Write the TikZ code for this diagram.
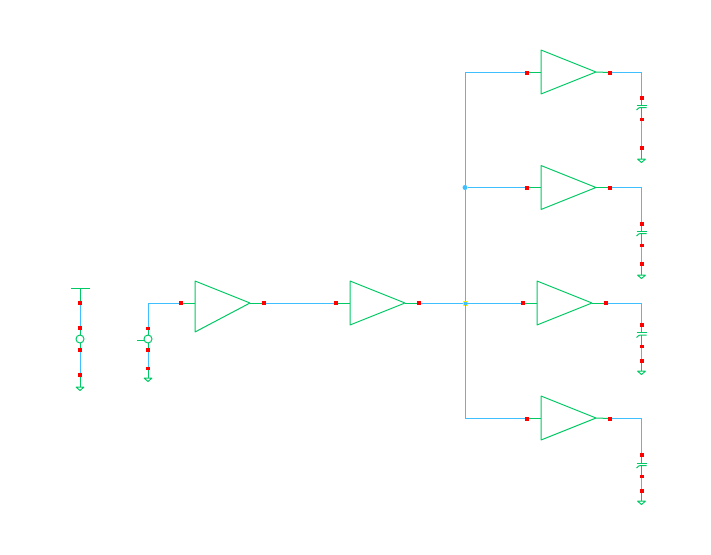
\documentclass[tikz,border=0pt]{standalone}
\usepackage{tikz}
\usetikzlibrary{shapes.geometric,positioning,calc}

\definecolor{wireblue}{HTML}{40BFFF}
\definecolor{devgreen}{HTML}{00C864}

\tikzset{
    redpin/.style={fill=red, inner sep=0pt, outer sep=0pt, minimum width=4pt, minimum height=4pt},
    thinpin/.style={redpin, minimum height=3pt},
    buffer/.style={draw=devgreen, isosceles triangle, isosceles triangle stretches, line join=bevel,
        inner sep=0pt, outer sep=0pt, minimum width=44pt, minimum height=55pt, anchor=west},
    gnd/.style={draw=devgreen, isosceles triangle, isosceles triangle stretches, shape border rotate=-90,
        line join=bevel, inner sep=0pt, outer sep=0pt, minimum width=8pt, minimum height=3.5pt, anchor=north},
    source/.style={draw=devgreen, circle, inner sep=0pt, outer sep=0pt, minimum size=8pt},
    rail/.style={fill=devgreen, inner sep=0pt, outer sep=0pt, minimum width=19pt, minimum height=1pt},
    junction/.style={circle, fill=wireblue, inner sep=0pt, outer sep=0pt, minimum size=5pt},
    tapjunction/.style={fill=wireblue, draw=yellow, line width=.8pt, inner sep=0pt, outer sep=0pt, minimum size=4pt},
    capnode/.style={inner sep=0pt, outer sep=0pt, minimum size=0pt},
    wire/.style={draw=wireblue},
    stub/.style={draw=devgreen},
    capsym/.pic={
        \draw[devgreen] (-5,0) -- (5,0);
        \draw[devgreen] (-5,5) .. controls (-3,2.5) and (-2,2.5) .. (0,2.5) -- (5,2.5);
    }
}

\begin{document}
\begin{tikzpicture}[x=1pt, y=-1pt, line width=1pt]

        \useasboundingbox (0,0) rectangle (711,554);

        % Supply on the far left
        \begin{scope}
            \node[rail] (V1) at (80,288) {};
            \node[redpin] (Pa1) at (80,303) {};
            \node[redpin] (Pa2) at (80,328) {};
            \node[source] (S1) at (80,339) {};
            \node[redpin] (Pa3) at (80,350) {};
            \node[redpin] (Pa4) at (80,375) {};
            \node[gnd] (G1) at (80,387) {};
        \end{scope}

        % Input source
        \begin{scope}
            \node[thinpin] (Pb1) at (148,328) {};
            \node[source] (S2) at (148,339) {};
            \coordinate (S2in) at (137,340);
            \node[redpin] (Pb2) at (148,350) {};
            \node[thinpin] (Pb3) at (148,368) {};
            \node[gnd] (G2) at (148,378) {};
        \end{scope}

        % Buffer chain, the first one is not symmetric
        \begin{scope}
            \node[redpin] (B1i) at (181,303) {};
            \coordinate (B1w) at (195,303);
            \coordinate (B1t) at (195,281);
            \coordinate (B1b) at (195,332);
            \coordinate (B1e) at (250,303);
            \draw[devgreen, line join=bevel] (B1t) -- (B1e) -- (B1b) -- cycle;
            \node[redpin] (B1o) at (264,303) {};
            \node[redpin] (B2i) at (336,303) {};
            \node[buffer] (B2) at (350,303) {};
            \node[redpin] (B2o) at (419,303) {};
        \end{scope}

        % Fan out
        \begin{scope}
            \node[junction] (J1) at (465,187.5) {};
            \node[tapjunction] (J2) at (465,303) {};

            \node[redpin] (L1i) at (527,72.5) {};
            \node[buffer] (L1) at (541,72) {};
            \node[redpin] (L1o) at (610,72.5) {};
            \node[redpin] (L2i) at (527,187.5) {};
            \node[buffer] (L2) at (541,187.5) {};
            \node[redpin] (L2o) at (610,187.5) {};
            \node[redpin] (L3i) at (522.5,303) {};
            \node[buffer] (L3) at (537,303) {};
            \node[redpin] (L3o) at (605.5,303) {};
            \node[redpin] (L4i) at (527,418.5) {};
            \node[buffer] (L4) at (541,418) {};
            \node[redpin] (L4o) at (610,418.5) {};
        \end{scope}

        % Loads
        \begin{scope}
            \node[redpin] (C1a) at (641.5,98) {};
            \node[capnode] (C1t) at (641.5,105) {};
            \node[capnode] (C1l) at (641.5,107.5) {};
            \pic at (C1t) {capsym};
            \node[thinpin] (C1b) at (641.5,119) {};
            \node[redpin] (C1c) at (641.5,148) {};
            \node[gnd] (G3) at (641.5,159) {};

            \node[redpin] (C2a) at (641.5,224) {};
            \node[capnode] (C2t) at (641.5,231) {};
            \node[capnode] (C2l) at (641.5,233.5) {};
            \pic at (C2t) {capsym};
            \node[thinpin] (C2b) at (641.5,245) {};
            \node[redpin] (C2c) at (641.5,264) {};
            \node[gnd] (G4) at (641.5,275) {};

            \node[redpin] (C3a) at (641.5,325) {};
            \node[capnode] (C3t) at (641.5,332.5) {};
            \node[capnode] (C3l) at (641.5,335) {};
            \pic at (C3t) {capsym};
            \node[thinpin] (C3b) at (641.5,346) {};
            \node[redpin] (C3c) at (641.5,361) {};
            \node[gnd] (G5) at (641.5,371) {};

            \node[redpin] (C4a) at (641.5,455) {};
            \node[capnode] (C4t) at (641.5,463) {};
            \node[capnode] (C4l) at (641.5,465.5) {};
            \pic at (C4t) {capsym};
            \node[thinpin] (C4b) at (641.5,476) {};
            \node[redpin] (C4c) at (641.5,491) {};
            \node[gnd] (G6) at (641.5,501) {};
        \end{scope}

        \begin{scope}[wire]
            \draw (Pa1) -- (Pa2);
            \draw (Pa3) -- (Pa4);
            \draw (B1i) -| (Pb1);
            \draw (Pb2) -- (Pb3);
            \draw (B1o) -- (B2i);
            \draw (B2o) -- (J2);
            \draw (J2) -- (L3i);
            \draw (L1i) -| (J1);
            \draw (J1) -- (J2);
            \draw (J1) -- (L2i);
            \draw (L4i) -| (J2);
            \draw (L1o) -| (C1a);
            \draw (L2o) -| (C2a);
            \draw (L3o) -| (C3a);
            \draw (L4o) -| (C4a);
            \draw (C1b) -- (C1c);
            \draw (C2b) -- (C2c);
            \draw (C3b) -- (C3c);
            \draw (C4b) -- (C4c);
        \end{scope}

        \begin{scope}[stub]
            \draw (V1) -- (Pa1);
            \draw (Pa2) -- (S1);
            \draw (S1) -- (Pa3);
            \draw (Pa4) -- (G1.north);
            \draw (Pb1) -- (S2);
            \draw (S2in) -- (S2.west |- S2in);
            \draw (S2) -- (Pb2);
            \draw (Pb3) -- (G2.north);
            \draw (B1i) -- (B1w);
            \draw (B1e) -- (B1o);
            \draw (B2i) -- (B2.west);
            \draw (B2.east) -- (B2o);
            \draw (L1i) -- (L1i -| L1.west);
            \draw (L1.east) -- (L1o);
            \draw (L2i) -- (L2.west);
            \draw (L2.east) -- (L2o);
            \draw (L3i) -- (L3.west);
            \draw (L3.east) -- (L3o);
            \draw (L4i) -- (L4i -| L4.west);
            \draw (L4.east) -- (L4o);
            \draw (C1a) -- (C1t);
            \draw (C1l) -- (C1b);
            \draw (C1c) -- (G3.north);
            \draw (C2a) -- (C2t);
            \draw (C2l) -- (C2b);
            \draw (C2c) -- (G4.north);
            \draw (C3a) -- (C3t);
            \draw (C3l) -- (C3b);
            \draw (C3c) -- (G5.north);
            \draw (C4a) -- (C4t);
            \draw (C4l) -- (C4b);
            \draw (C4c) -- (G6.north);
        \end{scope}

\end{tikzpicture}
\end{document}
